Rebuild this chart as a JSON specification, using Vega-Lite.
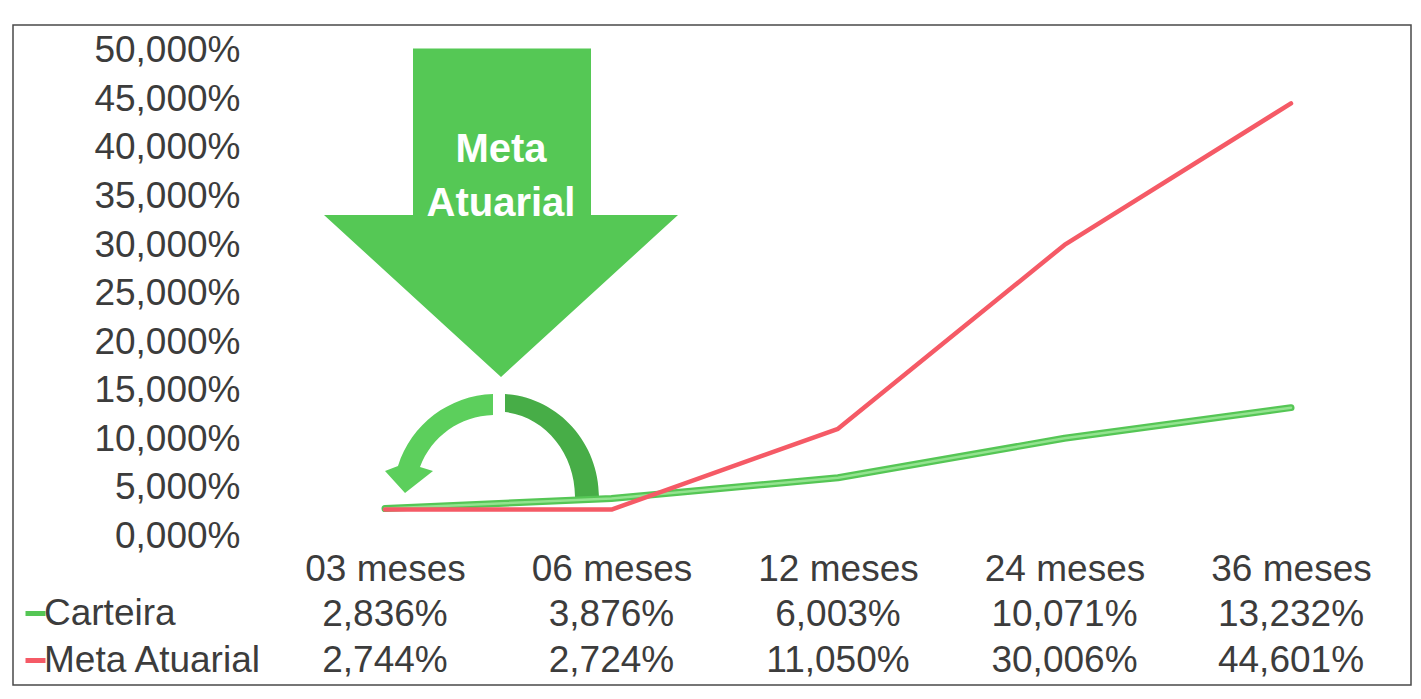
{
  "$schema": "https://vega.github.io/schema/vega-lite/v6.json",
  "width": 1398,
  "height": 660,
  "autosize": {"type": "none"},
  "padding": {"left": 13, "top": 25, "right": 10, "bottom": 14},
  "background": "white",
  "config": {
    "locale": {"number": {"decimal": ",", "thousands": ".", "grouping": [3], "currency": ["R$ ", ""]}},
    "view": {"stroke": "#4a4a4a", "strokeWidth": 1.5},
    "font": "Liberation Sans"
  },
  "datasets": {
    "series": [
      {"periodo": "03 meses", "serie": "Carteira", "valor": 0.02836},
      {"periodo": "06 meses", "serie": "Carteira", "valor": 0.03876},
      {"periodo": "12 meses", "serie": "Carteira", "valor": 0.06003},
      {"periodo": "24 meses", "serie": "Carteira", "valor": 0.10071},
      {"periodo": "36 meses", "serie": "Carteira", "valor": 0.13232},
      {"periodo": "03 meses", "serie": "Meta Atuarial", "valor": 0.02744},
      {"periodo": "06 meses", "serie": "Meta Atuarial", "valor": 0.02724},
      {"periodo": "12 meses", "serie": "Meta Atuarial", "valor": 0.1105},
      {"periodo": "24 meses", "serie": "Meta Atuarial", "valor": 0.30006},
      {"periodo": "36 meses", "serie": "Meta Atuarial", "valor": 0.44601}
    ],
    "anotacao": [
      {"periodo": "03 meses", "valor": 0.25, "rotulo": "Meta Atuarial"}
    ]
  },
  "resolve": {"scale": {"y": "independent"}, "axis": {"y": "independent"}},
  "layer": [
    {
      "layer": [
        {
          "data": {"name": "anotacao"},
          "mark": {"type": "point", "shape": "M28,-245L206,-245L206,-78.5L293,-78.5L116,83.5L-61,-78.5L28,-78.5Z", "size": 4, "filled": true, "color": "#55c855", "opacity": 1, "strokeWidth": 0},
          "encoding": {
            "x": {"field": "periodo", "type": "ordinal"},
            "y": {"field": "valor", "type": "quantitative"}
          }
        },
        {
          "data": {"name": "anotacao"},
          "mark": {"type": "point", "shape": "M108,100.5A103,103,0,0,0,13,172.5L0,177.5L20,199.5L48,177.5L35,173.5A80,80,0,0,1,108,121.5Z", "size": 4, "filled": true, "color": "#5ccf5c", "opacity": 1, "strokeWidth": 0},
          "encoding": {
            "x": {"field": "periodo", "type": "ordinal"},
            "y": {"field": "valor", "type": "quantitative"}
          }
        },
        {
          "data": {"name": "anotacao"},
          "mark": {"type": "point", "shape": "M120,100.5A100,103,0,0,1,214,203.5L190,203.5A78,85,0,0,0,120,118.5Z", "size": 4, "filled": true, "color": "#47ad47", "opacity": 1, "strokeWidth": 0},
          "encoding": {
            "x": {"field": "periodo", "type": "ordinal"},
            "y": {"field": "valor", "type": "quantitative"}
          }
        },
        {
          "data": {"name": "anotacao"},
          "mark": {"type": "text", "color": "white", "fontSize": 40, "fontWeight": "bold", "font": "Liberation Sans", "align": "center", "baseline": "middle", "lineBreak": " ", "lineHeight": 54, "dx": 116, "dy": -144},
          "encoding": {
            "x": {"field": "periodo", "type": "ordinal"},
            "y": {"field": "valor", "type": "quantitative"},
            "text": {"field": "rotulo"}
          }
        },
        {
          "data": {"name": "series"},
          "transform": [{"filter": "datum.serie == 'Carteira'"}],
          "mark": {"type": "line", "strokeWidth": 7, "strokeCap": "round", "strokeJoin": "round"},
          "encoding": {
            "x": {
              "field": "periodo", "type": "ordinal",
              "scale": {"type": "point", "range": [372, 1278], "padding": 0},
              "axis": {"orient": "bottom", "offset": -116, "title": null, "labelAngle": 0, "labelAlign": "center", "labelFontSize": 37, "labelColor": "#3c3c3c", "labelBaseline": "middle", "labelPadding": 0, "ticks": false, "tickSize": 0, "domain": false, "grid": false, "labelOverlap": false, "labelFlush": false, "labelFont": "Liberation Sans", "labelLimit": 400}
            },
            "y": {
              "field": "valor", "type": "quantitative",
              "scale": {"domain": [-0.1536, 0.5268], "nice": false, "zero": false},
              "axis": {"orient": "left", "offset": -227, "title": null, "values": [0, 0.05, 0.1, 0.15, 0.2, 0.25, 0.3, 0.35, 0.4, 0.45, 0.5], "format": ".3%", "labelFontSize": 37, "labelColor": "#3c3c3c", "labelPadding": 0, "ticks": false, "tickSize": 0, "domain": false, "grid": false, "labelFont": "Liberation Sans", "labelLimit": 400}
            },
            "color": {
              "field": "serie", "type": "nominal",
              "scale": {"domain": ["Carteira", "Meta Atuarial"], "range": ["#55c655", "#f55a66"]},
              "legend": {"title": null, "orient": "none", "legendX": 4, "legendY": 570, "symbolType": "stroke", "symbolSize": 400, "symbolStrokeWidth": 5, "labelFontSize": 37, "labelColor": "#3c3c3c", "labelLimit": 400, "labelOffset": -10, "rowPadding": 9, "padding": 0, "labelFont": "Liberation Sans"}
            }
          }
        },
        {
          "data": {"name": "series"},
          "transform": [{"filter": "datum.serie == 'Carteira'"}],
          "mark": {"type": "line", "strokeWidth": 2.5, "color": "#93e38f", "strokeCap": "round", "strokeJoin": "round"},
          "encoding": {
            "x": {"field": "periodo", "type": "ordinal"},
            "y": {"field": "valor", "type": "quantitative"}
          }
        },
        {
          "data": {"name": "series"},
          "transform": [{"filter": "datum.serie == 'Meta Atuarial'"}],
          "mark": {"type": "line", "strokeWidth": 4.5, "strokeCap": "round", "strokeJoin": "round"},
          "encoding": {
            "x": {"field": "periodo", "type": "ordinal"},
            "y": {"field": "valor", "type": "quantitative"},
            "color": {"field": "serie", "type": "nominal"}
          }
        }
      ]
    },
    {
      "data": {"name": "series"},
      "mark": {"type": "text", "fontSize": 37, "color": "#3c3c3c", "align": "center", "baseline": "middle", "font": "Liberation Sans"},
      "encoding": {
        "x": {"field": "periodo", "type": "ordinal"},
        "y": {"field": "serie", "type": "nominal", "scale": {"type": "point", "domain": ["Carteira", "Meta Atuarial"], "range": [590, 636], "padding": 0}, "axis": null},
        "text": {"field": "valor", "type": "quantitative", "format": ".3%"}
      }
    }
  ]
}
